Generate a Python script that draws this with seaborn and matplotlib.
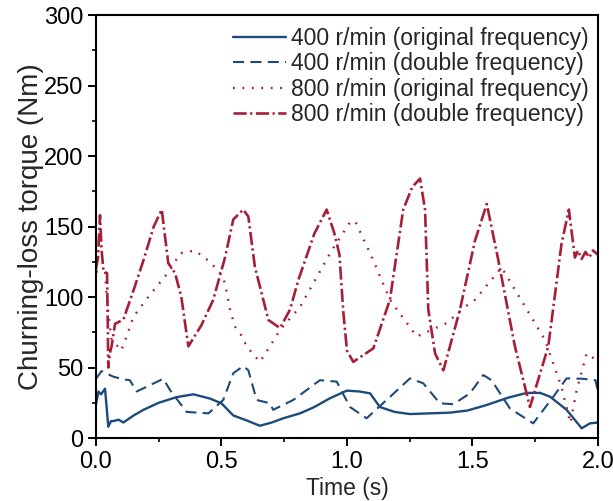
import pandas as pd
import matplotlib
matplotlib.use("Agg")
import matplotlib.pyplot as plt
import seaborn as sns
from matplotlib.ticker import MultipleLocator

# 400 r/min, original frequency
t_400_orig = [0, 0.01, 0.02, 0.036, 0.049, 0.06, 0.069, 0.09, 0.109, 0.15, 0.189, 0.25, 0.321, 0.388,
              0.454, 0.5, 0.547, 0.6, 0.653, 0.70, 0.746, 0.813, 0.87, 0.93, 0.999, 1.05, 1.092, 1.131,
              1.19, 1.251, 1.33, 1.41, 1.48, 1.556, 1.64, 1.716, 1.77, 1.809, 1.875, 1.935, 1.968, 2.0]
v_400_orig = [24, 33, 31, 35, 8, 12, 12, 13, 11, 16, 20, 25, 29, 31,
              28, 24.6, 16, 12.5, 8.7, 11, 14, 17.5, 22, 28, 33.6, 33, 31.7, 22,
              18.5, 17, 17.5, 18, 19.5, 23.4, 28.5, 32, 32, 29.3, 20, 6.9, 10.4, 11]

# 400 r/min, double frequency
t_400_dbl = [0, 0.022, 0.069, 0.109, 0.135, 0.162, 0.268, 0.295, 0.361, 0.448, 0.507, 0.547, 0.587,
             0.607, 0.64, 0.693, 0.706, 0.786, 0.892, 0.959, 1.012, 1.078, 1.158, 1.251, 1.304, 1.37,
             1.424, 1.49, 1.543, 1.576, 1.649, 1.742, 1.822, 1.875, 1.941, 1.99, 2.0]
v_400_dbl = [42, 47.5, 43.5, 41.6, 41, 33, 42, 34, 18.5, 17.5, 27, 46, 51,
             48, 27, 24.6, 20, 27, 41, 40, 22, 14, 27, 42.3, 38.8, 24.6,
             24, 31.7, 44.7, 41, 21, 10.4, 29.3, 42.3, 42, 41, 33]

# 800 r/min, original frequency
t_800_orig = [0, 0.036, 0.045, 0.062, 0.082, 0.10, 0.122, 0.149, 0.208, 0.295, 0.335, 0.394, 0.454,
              0.494, 0.514, 0.534, 0.554, 0.574, 0.60, 0.653, 0.693, 0.733, 0.813, 0.939, 1.012, 1.032,
              1.105, 1.171, 1.278, 1.397, 1.47, 1.51, 1.616, 1.749, 1.789, 1.855, 1.89, 1.915, 1.955,
              1.995, 2.0]
v_800_orig = [118, 118, 95, 69.5, 66, 62, 72, 86, 100, 119, 131, 133, 125,
              117, 110, 91, 79, 74.5, 65, 54, 65, 76.6, 93, 133, 153, 154,
              126, 98, 72, 81.5, 93, 98, 121, 81.5, 69.5, 36, 10.6, 34, 60,
              55, 55]

# 800 r/min, double frequency
t_800_dbl = [0, 0.008, 0.016, 0.022, 0.03, 0.044, 0.047, 0.049, 0.055, 0.062, 0.076, 0.109, 0.15,
             0.189, 0.23, 0.262, 0.288, 0.315, 0.34, 0.368, 0.42, 0.467, 0.514, 0.547, 0.587, 0.607,
             0.633, 0.66, 0.687, 0.733, 0.773, 0.806, 0.87, 0.919, 0.95, 0.97, 0.985, 1.0, 1.025,
             1.105, 1.171, 1.224, 1.26, 1.291, 1.311, 1.324, 1.351, 1.384, 1.45, 1.51, 1.557, 1.603,
             1.669, 1.729, 1.802, 1.855, 1.884, 1.908, 1.92, 1.935, 1.95, 1.965, 1.98, 2.0]
v_800_dbl = [120, 128, 158, 134, 118, 117, 80, 50, 60, 65, 81, 84, 105,
             126, 150, 162, 124, 117, 100, 65, 80, 98, 128, 155, 162, 157,
             121.5, 102.6, 83.7, 78, 91, 112, 145, 162, 145, 130, 90, 62, 54,
             63.6, 98, 162, 178, 184, 162, 91, 60, 48, 91, 140, 166, 126,
             65, 22, 65, 138, 162, 128, 133, 127, 132, 128, 133, 130]

labels = ["400 r/min (original frequency)", "400 r/min (double frequency)",
          "800 r/min (original frequency)", "800 r/min (double frequency)"]

blue = "#1c4b7b"
red = "#a61f36"

sns.set_style("ticks")
plt.rcParams["font.family"] = ["Liberation Sans", "DejaVu Sans"]
plt.rcParams["lines.scale_dashes"] = False

series = [
    (t_400_orig, v_400_orig, blue, "-", 1.7),
    (t_400_dbl, v_400_dbl, blue, (0, (8, 4.5)), 1.5),
    (t_800_orig, v_800_orig, red, (0, (1.3, 5.5)), 1.7),
    (t_800_dbl, v_800_dbl, red, (0, (9.5, 2.5, 1.6, 2.5)), 1.9),
]

fig = plt.figure(figsize=(6.13, 5.01), dpi=100)
ax = fig.add_axes([0.1566, 0.1257, 0.8189, 0.8443])

for (t, v, c, ls, lw), lab in zip(series, labels):
    df = pd.DataFrame({"t": t, "v": v})
    sns.lineplot(data=df, x="t", y="v", ax=ax, color=c, linestyle=ls, linewidth=lw,
                 sort=False, estimator=None, label=lab)

ax.set_xlim(0, 2.0)
ax.set_ylim(0, 300)
ax.xaxis.set_major_locator(MultipleLocator(0.5))
ax.xaxis.set_minor_locator(MultipleLocator(0.25))
ax.yaxis.set_major_locator(MultipleLocator(50))
ax.yaxis.set_minor_locator(MultipleLocator(25))
ax.xaxis.set_major_formatter(matplotlib.ticker.FormatStrFormatter("%.1f"))

ax.tick_params(which="major", direction="out", length=6, width=1.4, labelsize=17,
               top=False, right=False, colors="black", pad=3)
ax.tick_params(which="minor", direction="out", length=3, width=1.4, top=False, right=False)
for s in ax.spines.values():
    s.set_visible(True)
    s.set_linewidth(1.5)
    s.set_color("black")

ax.set_xlabel("Time (s)", fontsize=16.5, labelpad=3)
ax.set_ylabel("Churning-loss torque (Nm)", fontsize=20, labelpad=0)

ax.legend(loc="upper right", frameon=False, fontsize=16.5, handlelength=2.3,
          handletextpad=0.2, labelspacing=0.11, borderaxespad=0.3,
          bbox_to_anchor=(1.013, 1.01))

fig.savefig("out.png", dpi=100)
